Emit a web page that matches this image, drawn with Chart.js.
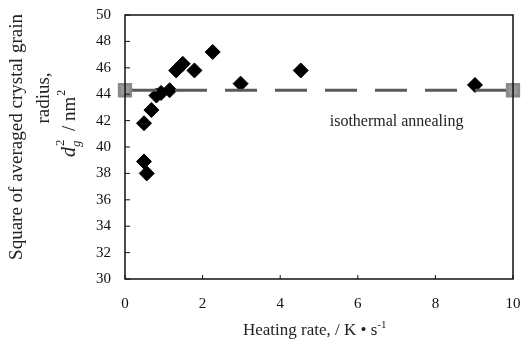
<!DOCTYPE html>
<html>
<head>
<meta charset="utf-8">
<script src="https://cdn.jsdelivr.net/npm/chart.js@4.4.0/dist/chart.umd.min.js"></script>
<style>
  html, body { margin: 0; padding: 0; background: #fff; }
  #wrap { width: 524px; height: 348px; }
</style>
</head>
<body>
<div id="wrap"><canvas id="c" width="524" height="348"></canvas></div>
<script>
// heating rate (K/s) and d_g^2 (nm^2)
const rateValues = [0.49, 0.49, 0.56, 0.68, 0.81, 0.93, 1.15, 1.32, 1.49, 1.79, 2.26, 2.98, 4.53, 9.02];
const grainValues = [41.8, 38.9, 38.0, 42.8, 43.9, 44.1, 44.3, 45.8, 46.3, 45.8, 47.2, 44.8, 45.8, 44.7];
const isoRates = [0, 10];
const isoValues = [44.3, 44.3];
const xTicks = [0, 2, 4, 6, 8, 10];
const yTicks = [30, 32, 34, 36, 38, 40, 42, 44, 46, 48, 50];

const serif = "'Liberation Serif', 'Times New Roman', serif";

const framePlugin = {
    id: "frame",
    afterDraw(chart) {
        const ctx = chart.ctx;
        const a = chart.chartArea;
        const xs = chart.scales.x, ys = chart.scales.y;
        ctx.save();
        ctx.strokeStyle = "#111";
        ctx.lineWidth = 1.5;
        ctx.strokeRect(a.left, a.top, a.right - a.left, a.bottom - a.top);
        // inward tick marks
        ctx.lineWidth = 1;
        yTicks.forEach(v => {
            const y = ys.getPixelForValue(v);
            ctx.beginPath(); ctx.moveTo(a.left, y); ctx.lineTo(a.left + 5, y); ctx.stroke();
        });
        xTicks.forEach(v => {
            const x = xs.getPixelForValue(v);
            ctx.beginPath(); ctx.moveTo(x, a.bottom); ctx.lineTo(x, a.bottom - 4); ctx.stroke();
        });

        // label inside the plot
        ctx.fillStyle = "#222";
        ctx.font = "16px " + serif;
        ctx.textAlign = "center";
        ctx.textBaseline = "middle";
        ctx.fillText("isothermal annealing", xs.getPixelForValue(7.0), ys.getPixelForValue(41.9));

        // x axis title
        ctx.font = "17px " + serif;
        const xt = "Heating rate, / K \u2022 s";
        const w = ctx.measureText(xt).width;
        ctx.textAlign = "left";
        ctx.fillText(xt, 243, 331);
        ctx.font = "11px " + serif;
        ctx.fillText("-1", 243 + w, 325);

        // y axis title (rotated, three lines)
        ctx.rotate(-Math.PI / 2);
        ctx.textAlign = "center";
        ctx.font = "19px " + serif;
        ctx.fillText("Square of averaged crystal grain", -137, 17);
        ctx.fillText("radius,", -98, 44);
        // d_g^2 / nm^2
        ctx.textAlign = "left";
        let x0 = -157;
        ctx.font = "italic 20px " + serif;
        ctx.fillText("d", x0, 70);
        x0 += ctx.measureText("d").width;
        ctx.font = "italic 13px " + serif;
        ctx.fillText("g", x0, 77);
        ctx.font = "13px " + serif;
        ctx.fillText("2", x0 + 1, 61);
        x0 += 16;
        ctx.font = "19px " + serif;
        ctx.fillText("/ nm", x0, 70);
        x0 += ctx.measureText("/ nm").width;
        ctx.font = "12px " + serif;
        ctx.fillText("2", x0 + 1, 62);
        ctx.restore();
    }
};

new Chart(document.getElementById("c").getContext("2d"), {
    type: "scatter",
    data: {
        datasets: [
            {
                label: "isothermal annealing",
                data: isoRates.map((r, i) => ({ x: r, y: isoValues[i] })),
                showLine: true,
                borderColor: "#5a5a5a",
                borderWidth: 3,
                borderDash: [32, 18],
                pointStyle: "rect",
                pointRadius: 8,
                pointBackgroundColor: "#9a9a9a",
                pointBorderColor: "#8a8a8a",
                clip: false
            },
            {
                label: "continuous heating",
                data: rateValues.map((r, i) => ({ x: r, y: grainValues[i] })),
                pointStyle: "rectRot",
                pointRadius: 7.5,
                pointBackgroundColor: "#000",
                pointBorderColor: "#000",
                clip: false
            }
        ]
    },
    options: {
        responsive: false,
        animation: false,
        layout: { padding: { left: 0, right: 8, top: 15, bottom: 0 } },
        plugins: { legend: { display: false }, tooltip: { enabled: false } },
        scales: {
            x: {
                type: "linear",
                min: 0, max: 10,
                afterBuildTicks: s => { s.ticks = xTicks.map(v => ({ value: v })); },
                afterFit: s => { s.height = 69; s.paddingLeft = 0; s.paddingRight = 0; },
                grid: { display: false, drawTicks: false },
                border: { display: false },
                ticks: { color: "#111", padding: 16, font: { family: serif, size: 15 } }
            },
            y: {
                type: "linear",
                min: 30, max: 50,
                afterBuildTicks: s => { s.ticks = yTicks.map(v => ({ value: v })); },
                afterFit: s => { s.width = 125; s.paddingTop = 0; s.paddingBottom = 0; },
                grid: { display: false, drawTicks: false },
                border: { display: false },
                ticks: { color: "#111", padding: 14, font: { family: serif, size: 15 } }
            }
        }
    },
    plugins: [framePlugin]
});
</script>
</body>
</html>
